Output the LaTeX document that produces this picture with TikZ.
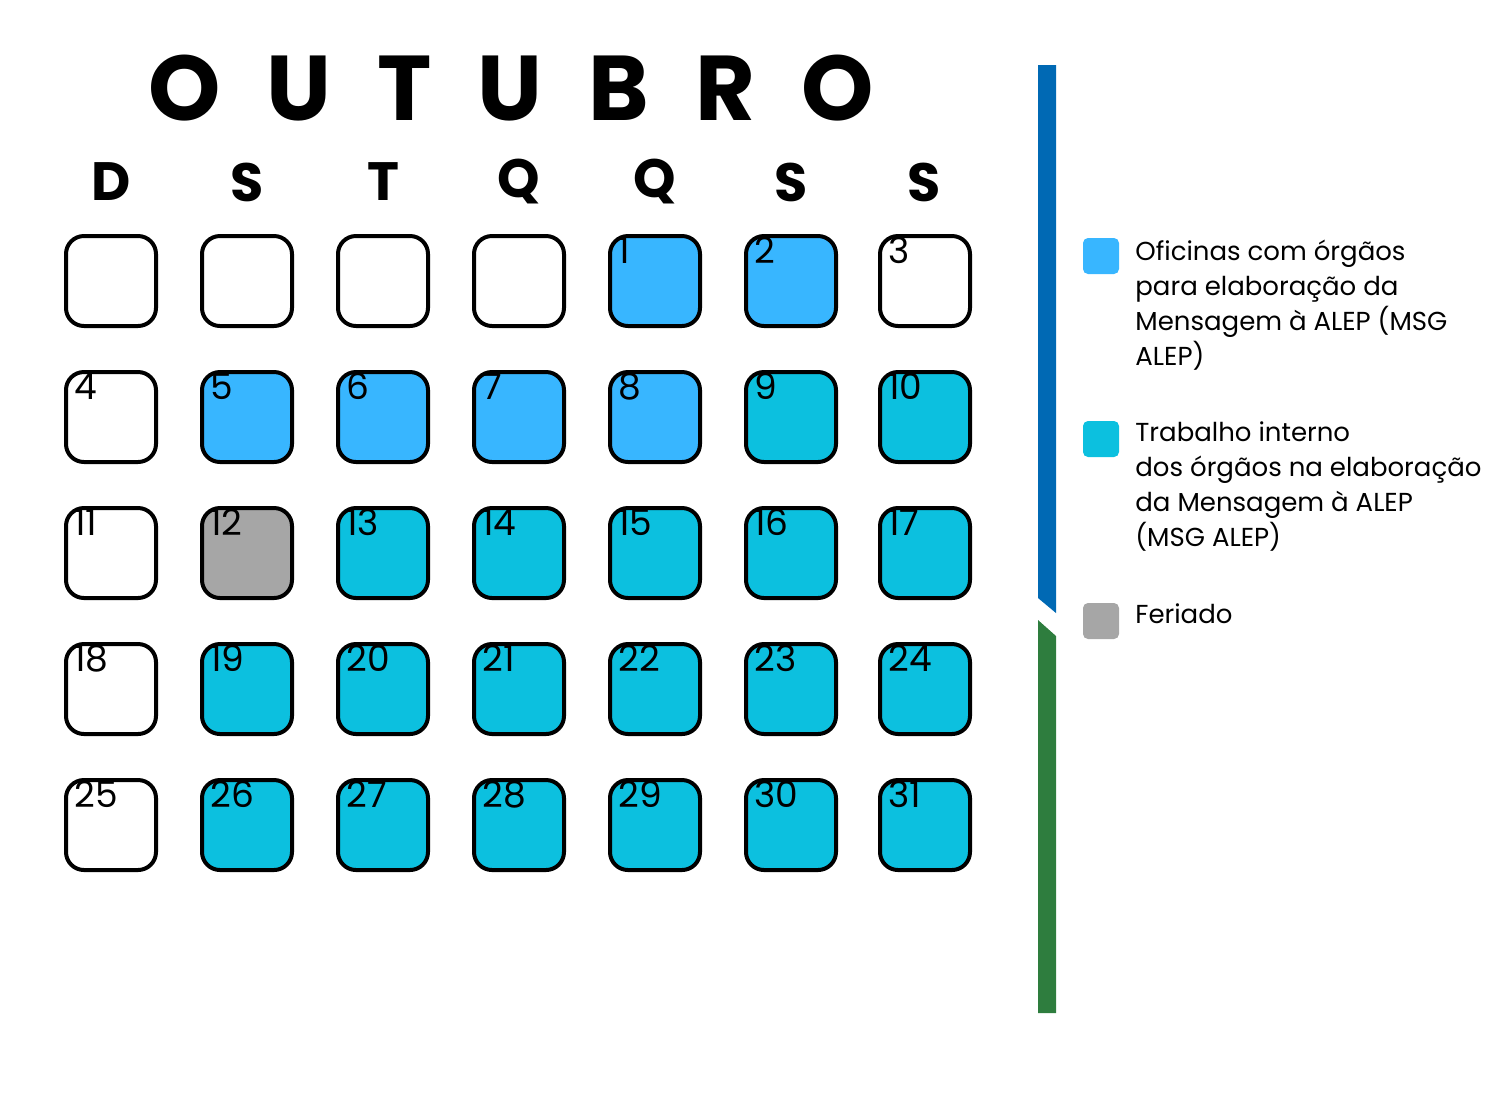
\documentclass[tikz,border=0pt]{standalone}
\usepackage{fontspec}
\setmainfont{Poppins}
\begin{document}
\begin{tikzpicture}[x=0.5pt,y=-0.5pt,
 day/.style={draw=black,line width=2pt,rounded corners=9pt,minimum width=45pt,minimum height=45pt,inner sep=0pt},
 num/.style={anchor=base west,font=\fontsize{18}{18}\selectfont,inner sep=0pt},
 hd/.style={font=\bfseries\fontsize{27}{27}\selectfont},
 leg/.style={anchor=north west,align=left,font=\fontsize{13}{17.5}\selectfont,inner sep=0pt},
 sw/.style={rounded corners=2.5pt,minimum width=18pt,minimum height=18pt,inner sep=0pt}]
\definecolor{lb}{HTML}{38B6FF}\definecolor{cy}{HTML}{0CC0DF}\definecolor{gr}{HTML}{A6A6A6}
\definecolor{bb}{HTML}{0069B4}\definecolor{gg}{HTML}{2E7D3E}
\useasboundingbox (0,0) rectangle (1500,1100);
\node[font=\bfseries\fontsize{46}{46}\selectfont] (title) at (511,88) {O\hspace{0.5em}U\hspace{0.5em}T\hspace{0.5em}U\hspace{0.5em}B\hspace{0.5em}R\hspace{0.5em}O};
\foreach \l [count=\i] in {D,S,T,Q,Q,S,S}
  \node[hd] (h\i) at ({111+136*(\i-1)-(\i==7?3:0)},182) {\l};
% cells: list col/row/number/color
\foreach \c/\r/\n/\f in {1/1//white,2/1//white,3/1//white,4/1//white,5/1/1/lb,6/1/2/lb,7/1/3/white,
 1/2/4/white,2/2/5/lb,3/2/6/lb,4/2/7/lb,5/2/8/lb,6/2/9/cy,7/2/10/cy,
 1/3/11/white,2/3/12/gr,3/3/13/cy,4/3/14/cy,5/3/15/cy,6/3/16/cy,7/3/17/cy,
 1/4/18/white,2/4/19/cy,3/4/20/cy,4/4/21/cy,5/4/22/cy,6/4/23/cy,7/4/24/cy,
 1/5/25/white,2/5/26/cy,3/5/27/cy,4/5/28/cy,5/5/29/cy,6/5/30/cy,7/5/31/cy}{
  \node[day,fill=\f] (d\c-\r) at ({111+136*(\c-1)-(\c==7?2:0)},{281+136*(\r-1)}) {};
  \node[num] (n\c-\r) at ([xshift=5pt,yshift=-14.5pt]d\c-\r.north west) {\n};
}
\fill[bb] (1038,65) -- (1056,65) -- (1056,613) -- (1038,598) -- cycle;
\fill[gg] (1038,620) -- (1056,636) -- (1056,1013) -- (1038,1013) -- cycle;
\node[sw,fill=lb] (s1) at (1101,256) {};
\node[sw,fill=cy] (s2) at (1101,439) {};
\node[sw,fill=gr] (s3) at (1101,621) {};
\node[leg] (l1) at (1135,240) {Oficinas com órgãos\\para elaboração da\\Mensagem à ALEP (MSG\\ALEP)};
\node[leg] (l2) at (1135,421) {Trabalho interno\\dos órgãos na elaboração\\da Mensagem à ALEP\\(MSG ALEP)};
\node[leg] (l3) at (1135,603) {Feriado};
\end{tikzpicture}
\end{document}
